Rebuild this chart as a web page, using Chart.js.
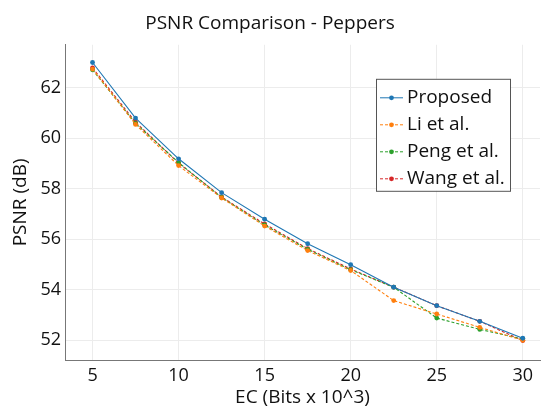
<!DOCTYPE html>
<html>
<head>
<meta charset="utf-8">
<script src="https://cdn.jsdelivr.net/npm/chart.js@4"></script>
<style>
  html, body { margin: 0; padding: 0; background: #fff; }
  #wrap { width: 544px; height: 411px; }
</style>
</head>
<body>
<div id="wrap"><canvas id="chart"></canvas></div>
<script>
// EC in bits x 10^3
const ecValues = [5, 7.5, 10, 12.5, 15, 17.5, 20, 22.5, 25, 27.5, 30];

const proposed = [62.99, 60.79, 59.18, 57.84, 56.79, 55.82, 54.99, 54.10, 53.37, 52.75, 52.08];
const liEtAl   = [62.73, 60.54, 58.91, 57.63, 56.52, 55.55, 54.76, 53.57, 53.04, 52.51, 52.00];
const pengEtAl = [62.70, 60.58, 59.03, 57.65, 56.56, 55.60, 54.79, 54.10, 52.88, 52.43, 52.05];
const wangEtAl = [62.78, 60.63, 59.01, 57.67, 56.60, 55.63, 54.82, 54.10, 53.37, 52.75, 51.99];

const xTicks = [5, 10, 15, 20, 25, 30];
const yTicks = [52, 54, 56, 58, 60, 62];

const FONT = "'Open Sans', 'DejaVu Sans', sans-serif";

function series(label, values, color, dashed) {
  return {
    label: label,
    data: values.map((v, i) => ({x: ecValues[i], y: v})),
    borderColor: color,
    backgroundColor: color,
    borderWidth: 1.1,
    borderDash: dashed ? [3, 2] : [],
    pointRadius: 2.4,
    pointBorderWidth: 0,
    pointBackgroundColor: color,
    tension: 0
  };
}

// legend drawn as a framed box inside the plot, like the original
const boxLegend = {
  id: "boxLegend",
  afterDraw(chart) {
    const ctx = chart.ctx;
    const area = chart.chartArea;
    const x0 = 376, y0 = area.top + 34, w = 134, h = 112;
    ctx.save();
    ctx.fillStyle = "#fff";
    ctx.fillRect(x0, y0, w, h);
    ctx.strokeStyle = "#555";
    ctx.lineWidth = 1;
    ctx.strokeRect(x0 + 0.5, y0 + 0.5, w, h);
    ctx.font = "19px " + FONT;
    ctx.textBaseline = "middle";
    chart.data.datasets.forEach((ds, i) => {
      const cy = y0 + 19 + i * 27;
      ctx.strokeStyle = ds.borderColor;
      ctx.setLineDash(ds.borderDash);
      ctx.beginPath();
      ctx.moveTo(x0 + 4, cy);
      ctx.lineTo(x0 + 27, cy);
      ctx.stroke();
      ctx.setLineDash([]);
      ctx.fillStyle = ds.borderColor;
      ctx.beginPath();
      ctx.arc(x0 + 15.5, cy, 2.4, 0, Math.PI * 2);
      ctx.fill();
      ctx.fillStyle = "#111";
      ctx.fillText(ds.label, x0 + 31, cy);
    });
    ctx.restore();
  }
};

new Chart(document.getElementById("chart"), {
  type: "line",
  data: {
    datasets: [
      series("Proposed", proposed, "#1f77b4", false),
      series("Li et al.", liEtAl, "#ff7f0e", true),
      series("Peng et al.", pengEtAl, "#2ca02c", true),
      series("Wang et al.", wangEtAl, "#d62728", true)
    ]
  },
  options: {
    responsive: true,
    maintainAspectRatio: false,
    animation: false,
    layout: { padding: { left: 0, right: 4, top: 0, bottom: 0 } },
    plugins: {
      legend: { display: false },
      tooltip: { enabled: false },
      title: {
        display: true,
        text: "PSNR Comparison - Peppers",
        color: "#111",
        font: { family: FONT, size: 19, weight: "normal" },
        padding: { top: 12, bottom: 10 }
      }
    },
    scales: {
      x: {
        type: "linear",
        min: 3.4,
        max: 31,
        afterBuildTicks(scale) { scale.ticks = xTicks.map(v => ({value: v})); },
        afterFit(scale) { scale.height = 51; },
        ticks: {
          color: "#111",
          font: { family: FONT, size: 18 },
          padding: 5,
          maxRotation: 0
        },
        grid: { color: "#ececec", drawTicks: false },
        border: { color: "#777", width: 1 },
        title: {
          display: true,
          text: "EC (Bits x 10^3)",
          color: "#111",
          font: { family: FONT, size: 19 },
          padding: { top: 0, bottom: 2 }
        }
      },
      y: {
        min: 51.22,
        max: 63.69,
        afterBuildTicks(scale) { scale.ticks = yTicks.map(v => ({value: v})); },
        afterFit(scale) { scale.width = 65; },
        ticks: {
          color: "#111",
          font: { family: FONT, size: 18 },
          padding: 4
        },
        grid: { color: "#ececec", drawTicks: false },
        border: { color: "#777", width: 1 },
        title: {
          display: true,
          text: "PSNR (dB)",
          color: "#111",
          font: { family: FONT, size: 19 },
          padding: { top: 9 }
        }
      }
    }
  },
  plugins: [boxLegend]
});
</script>
</body>
</html>
